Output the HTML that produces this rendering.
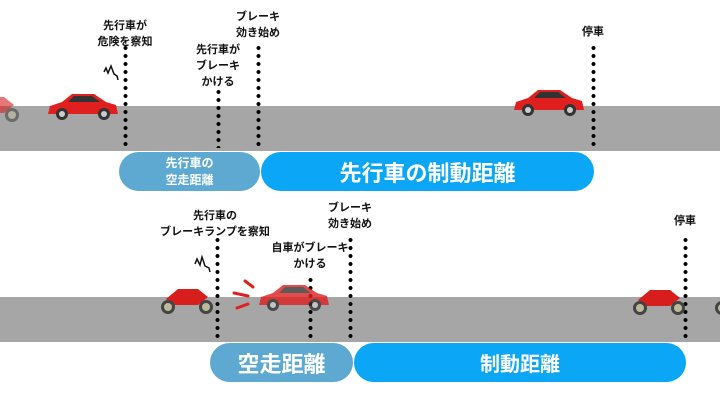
<!DOCTYPE html>
<html><head><meta charset="utf-8"><style>
body{margin:0;width:720px;height:405px;background:#fff;position:relative;overflow:hidden;font-family:"Liberation Sans","Noto Sans CJK JP",sans-serif}
.t{position:absolute;font-size:11px;font-weight:bold;color:#111;text-align:center;line-height:16px;white-space:nowrap}
.road{position:absolute;left:0;width:720px;height:45px;background:#a6a6a6}
.dot{position:absolute;width:5px;background-image:radial-gradient(circle,#000 1.8px,transparent 2.2px);background-size:5px 8px;background-repeat:repeat-y}
.pill{position:absolute;height:39px;border-radius:20px;color:#fff;font-weight:bold;display:flex;align-items:center;justify-content:center;text-align:center}
</style></head><body>
<div class="road" style="top:106px"></div>
<div class="road" style="top:297px"></div>

<div class="pill" style="left:119px;top:152px;width:141px;background:#5ea9d2;font-size:12px;line-height:17px">先行車の<br>空走距離</div>
<div class="pill" style="left:261px;top:152px;width:333px;background:#0ca6f6;font-size:22px">先行車の制動距離</div>
<div class="pill" style="left:210px;top:343px;width:143px;background:#5ea9d2;font-size:22px">空走距離</div>
<div class="pill" style="left:354px;top:343px;width:332px;background:#0ca6f6;font-size:20px">制動距離</div>

<div class="dot" style="left:123px;top:44px;height:104px"></div>
<div class="dot" style="left:216px;top:88px;height:60px"></div>
<div class="dot" style="left:256px;top:44px;height:104px"></div>
<div class="dot" style="left:591px;top:44px;height:104px"></div>
<div class="dot" style="left:215px;top:236px;height:104px"></div>
<div class="dot" style="left:308px;top:276px;height:64px"></div>
<div class="dot" style="left:348px;top:236px;height:104px"></div>
<div class="dot" style="left:683px;top:236px;height:104px"></div>

<div class="t" style="left:95px;top:18px;width:60px">先行車が<br>危険を察知</div>
<div class="t" style="left:188px;top:42px;width:60px">先行車が<br>ブレーキ<br>かける</div>
<div class="t" style="left:228px;top:9px;width:60px">ブレーキ<br>効き始め</div>
<div class="t" style="left:570px;top:24px;width:46px">停車</div>
<div class="t" style="left:150px;top:208px;width:130px">先行車の<br>ブレーキランプを察知</div>
<div class="t" style="left:255px;top:240px;width:110px">自車がブレーキ<br>かける</div>
<div class="t" style="left:320px;top:200px;width:60px">ブレーキ<br>効き始め</div>
<div class="t" style="left:662px;top:213px;width:46px">停車</div>

<svg width="720" height="405" style="position:absolute;left:0;top:0">
<defs>
<g id="car">
<path d="M2,22 L4,14 L16,10 L26,2 L48,2 L60,10 L70,13 L72,22 Z" fill="#e01f1f"/>
<path d="M28,4 L46,4 L54,10 L22,10 Z" fill="#333"/>
<circle cx="16" cy="22" r="6" fill="#333"/><circle cx="16" cy="22" r="3" fill="#ccc"/>
<circle cx="58" cy="22" r="6" fill="#333"/><circle cx="58" cy="22" r="3" fill="#ccc"/>
</g>
<g id="moto">
<path d="M8,14 L20,4 L40,4 L50,12 L40,20 L14,20 Z" fill="#d81d1d"/>
<circle cx="10" cy="22" r="7" fill="#444"/><circle cx="10" cy="22" r="4" fill="#bb9"/>
<circle cx="48" cy="22" r="7" fill="#444"/><circle cx="48" cy="22" r="4" fill="#bb9"/>
</g>
</defs>
<use href="#car" x="46" y="92"/>
<use href="#car" x="512" y="88"/>
<use href="#moto" x="-36" y="93" opacity="0.6"/>
<use href="#car" x="257" y="283" opacity="0.8"/>
<use href="#moto" x="158" y="285"/>
<use href="#moto" x="630" y="286"/>
<use href="#moto" x="712" y="286"/>
<g stroke="#e02020" stroke-width="3" stroke-linecap="round">
<line x1="245" y1="281" x2="253" y2="287"/><line x1="234" y1="293" x2="248" y2="296"/><line x1="237" y1="308" x2="248" y2="304"/>
</g>
<path d="M104,72 L106,68 L108,73 L111,66 L114,74 L117,76 L118,80" stroke="#111" stroke-width="1.5" fill="none"/>
<path d="M195,264 L197,259 L200,265 L202,257 L205,266 L209,268 L210,272" stroke="#111" stroke-width="1.5" fill="none"/>
</svg>
</body></html>
